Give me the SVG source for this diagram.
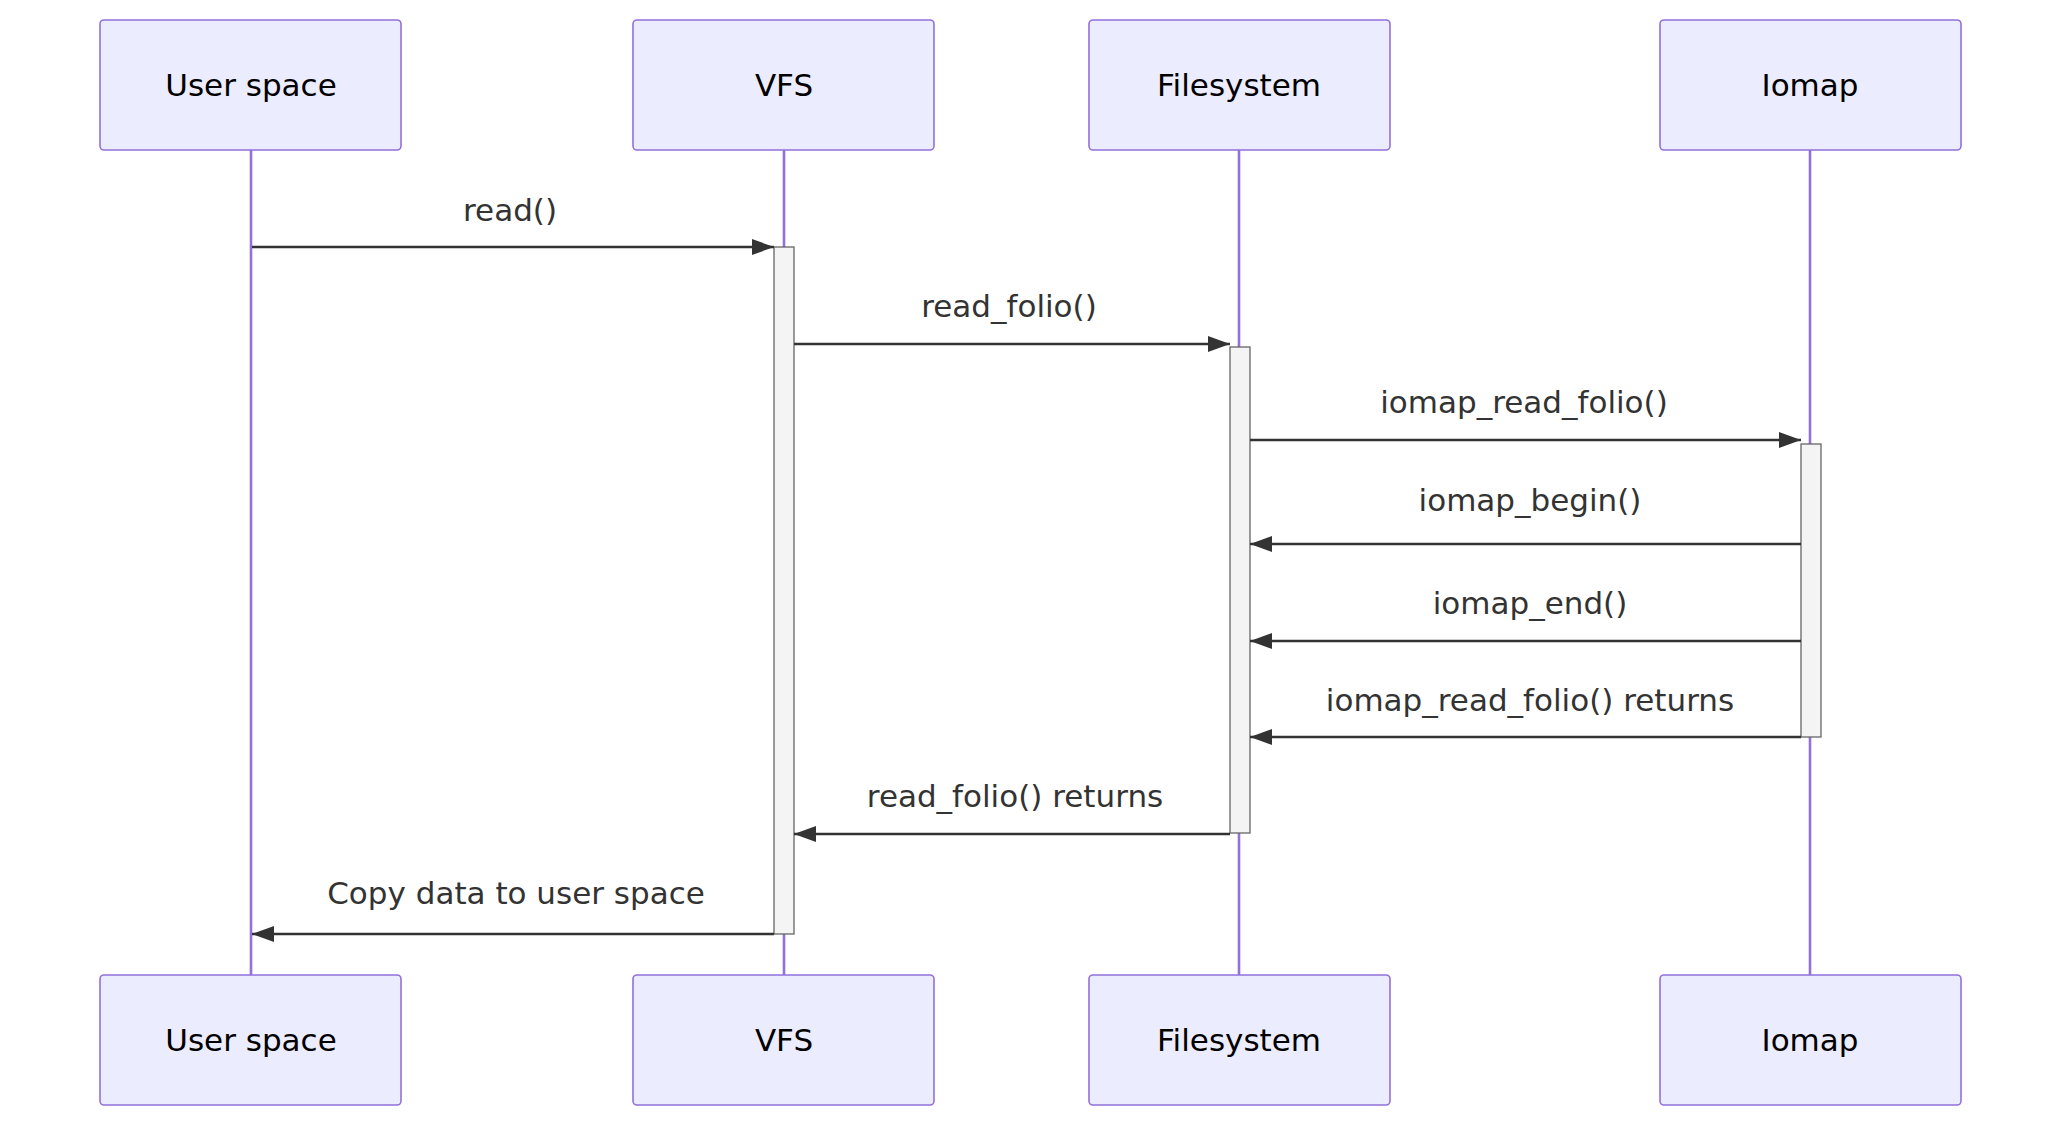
<svg xmlns="http://www.w3.org/2000/svg" width="2052" height="1122" viewBox="0 0 2052 1122">
<style>
.actor rect{fill:#ECECFF;stroke:#9370DB;stroke-width:1.6}
.actor text{font-family:"DejaVu Sans",sans-serif;font-size:31px;fill:#000;text-anchor:middle;dominant-baseline:central}
.life{stroke:#9370DB;stroke-width:2.6}
.act{fill:#F4F4F4;stroke:#666;stroke-width:1.3}
.msg{stroke:#333;stroke-width:2.6;fill:none}
.lbl{font-family:"DejaVu Sans",sans-serif;font-size:31px;fill:#333;text-anchor:middle;dominant-baseline:central}
</style>
<defs><marker id="ah" viewBox="0 0 22 16" refX="22" refY="8" markerWidth="22" markerHeight="16" markerUnits="userSpaceOnUse" orient="auto"><path d="M0,0L22,8L0,16z" fill="#333"/></marker></defs>
<g id="lifelines">
<line class="life" x1="251" y1="150" x2="251" y2="975"/>
<line class="life" x1="784" y1="150" x2="784" y2="975"/>
<line class="life" x1="1239" y1="150" x2="1239" y2="975"/>
<line class="life" x1="1810" y1="150" x2="1810" y2="975"/>
</g>
<g id="user-top" class="actor"><rect x="100" y="20" width="301" height="130" rx="4"/><text x="251" y="85">User space</text></g>
<g id="vfs-top" class="actor"><rect x="633" y="20" width="301" height="130" rx="4"/><text x="784" y="85">VFS</text></g>
<g id="fs-top" class="actor"><rect x="1089" y="20" width="301" height="130" rx="4"/><text x="1239" y="85">Filesystem</text></g>
<g id="iomap-top" class="actor"><rect x="1660" y="20" width="301" height="130" rx="4"/><text x="1810" y="85">Iomap</text></g>
<g id="user-bot" class="actor"><rect x="100" y="975" width="301" height="130" rx="4"/><text x="251" y="1040">User space</text></g>
<g id="vfs-bot" class="actor"><rect x="633" y="975" width="301" height="130" rx="4"/><text x="784" y="1040">VFS</text></g>
<g id="fs-bot" class="actor"><rect x="1089" y="975" width="301" height="130" rx="4"/><text x="1239" y="1040">Filesystem</text></g>
<g id="iomap-bot" class="actor"><rect x="1660" y="975" width="301" height="130" rx="4"/><text x="1810" y="1040">Iomap</text></g>
<g id="activations">
<rect class="act" x="774" y="247" width="20" height="687"/>
<rect class="act" x="1230" y="347" width="20" height="486"/>
<rect class="act" x="1801" y="444" width="20" height="293"/>
</g>
<g id="connectors">
<line class="msg" x1="252" y1="247" x2="774" y2="247" marker-end="url(#ah)"/>
<line class="msg" x1="794" y1="344" x2="1230" y2="344" marker-end="url(#ah)"/>
<line class="msg" x1="1250" y1="440" x2="1801" y2="440" marker-end="url(#ah)"/>
<line class="msg" x1="1801" y1="544" x2="1250" y2="544" marker-end="url(#ah)"/>
<line class="msg" x1="1801" y1="641" x2="1250" y2="641" marker-end="url(#ah)"/>
<line class="msg" x1="1801" y1="737" x2="1250" y2="737" marker-end="url(#ah)"/>
<line class="msg" x1="1230" y1="834" x2="794" y2="834" marker-end="url(#ah)"/>
<line class="msg" x1="774" y1="934" x2="252" y2="934" marker-end="url(#ah)"/>
<text class="lbl" x="510" y="210">read()</text>
<text class="lbl" x="1009" y="306">read_folio()</text>
<text class="lbl" x="1524" y="402">iomap_read_folio()</text>
<text class="lbl" x="1530" y="500">iomap_begin()</text>
<text class="lbl" x="1530" y="603">iomap_end()</text>
<text class="lbl" x="1530" y="700">iomap_read_folio() returns</text>
<text class="lbl" x="1015" y="796">read_folio() returns</text>
<text class="lbl" x="516" y="893">Copy data to user space</text>
</g>
</svg>
